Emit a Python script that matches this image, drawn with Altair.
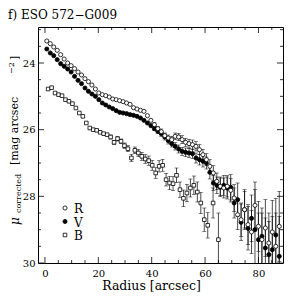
import altair as alt
import pandas as pd

# ---- data ----
radius = [0.7, 2.0, 3.3, 4.6, 5.9, 7.2, 8.5, 9.8, 11.1, 12.4, 13.7, 15.0, 16.3, 17.6, 18.9,
          20.2, 21.5, 22.8, 24.1, 25.4, 26.7, 28.0, 29.3, 30.6, 31.9, 33.2, 34.5, 35.8, 37.1,
          38.4, 39.7, 41.0, 42.3, 43.6, 44.9, 46.2, 47.5, 48.8, 50.1, 51.4, 52.7, 54.0, 55.3,
          56.6, 57.9, 59.2, 60.5, 61.8, 63.1, 64.4, 65.7, 67.0, 68.3, 69.6, 70.9, 72.2, 73.5,
          74.8, 76.1, 77.4, 78.7, 80.0, 81.3, 82.6, 83.9, 85.2, 86.5, 87.8]

R_mu = [23.34, 23.42, 23.52, 23.62, 23.75, 23.88, 24.00, 24.08, 24.17, 24.27,
        24.36, 24.47, 24.56, 24.66, 24.78, 24.90, 24.95, 24.98, 25.02, 25.08,
        25.10, 25.13, 25.16, 25.20, 25.24, 25.34, 25.38, 25.42, 25.45, 25.58,
        25.72,
        25.85, 25.97, 26.06, 26.18, 26.25, 26.30, 26.20, 26.22, 26.30, 26.38,
        26.42, 26.45, 26.50, 26.60, 26.75, 26.90, 27.10, 27.30, 27.55, 27.70,
        27.75, 27.70, 27.82, 28.05, 28.55, 28.70, 28.40, 28.85, 29.07, 28.27,
        28.90, 29.30, 28.95, 29.40, 29.07, 29.50, 28.90]
R_err = [0.02, 0.02, 0.02, 0.02, 0.02, 0.02, 0.02, 0.02, 0.02, 0.02,
         0.02, 0.02, 0.02, 0.02, 0.03, 0.03, 0.03, 0.03, 0.03, 0.03,
         0.03, 0.03, 0.03, 0.03, 0.04, 0.04, 0.04, 0.04, 0.05, 0.05,
         0.05,
         0.06, 0.07, 0.08, 0.08, 0.09, 0.10, 0.10, 0.11, 0.12, 0.12,
         0.13, 0.14, 0.14, 0.15, 0.16, 0.18, 0.20, 0.22, 0.25, 0.28,
         0.30, 0.32, 0.35, 0.40, 0.45, 0.50, 0.55, 0.60, 0.65, 0.70,
         0.75, 0.80, 0.85, 0.90, 0.95, 1.00, 1.05]

V_mu = [23.58, 23.70, 23.78, 23.90, 24.02, 24.10, 24.18, 24.27, 24.40, 24.52,
        24.62, 24.75, 24.85, 24.93, 25.00, 25.10, 25.20, 25.26, 25.32, 25.37,
        25.43, 25.48, 25.50, 25.52, 25.55, 25.57, 25.60, 25.65, 25.72, 25.80,
        25.88,
        25.97, 26.05, 26.12, 26.22, 26.33, 26.42, 26.50, 26.58, 26.65, 26.68,
        26.70, 26.72, 26.85, 26.90, 26.95, 27.00, 27.28, 27.60, 27.67, 27.73,
        27.67, 27.75, 27.73, 28.20, 28.10, 28.78, 28.40, 28.96, 28.66, 29.00,
        29.30, 29.20, 29.55, 29.75, 29.60, 29.16, 29.80]
V_err = [0.02, 0.02, 0.02, 0.02, 0.02, 0.02, 0.02, 0.02, 0.02, 0.02,
         0.02, 0.02, 0.02, 0.02, 0.03, 0.03, 0.03, 0.03, 0.03, 0.03,
         0.03, 0.03, 0.03, 0.03, 0.04, 0.04, 0.04, 0.04, 0.05, 0.05,
         0.05,
         0.06, 0.07, 0.08, 0.09, 0.10, 0.10, 0.11, 0.12, 0.12, 0.13,
         0.14, 0.14, 0.15, 0.16, 0.17, 0.18, 0.20, 0.22, 0.25, 0.28,
         0.30, 0.33, 0.38, 0.45, 0.50, 0.55, 0.60, 0.65, 0.70, 1.20,
         0.80, 0.85, 0.90, 1.00, 1.00, 1.10, 1.20]

B_r = [1.2, 2.5, 3.8, 5.1, 6.4, 7.7, 9.0, 10.3, 11.6, 12.9, 14.2, 15.5, 16.8, 18.1, 19.4,
       20.7, 22.0, 23.3, 24.6, 25.9, 27.2, 28.5, 29.8, 31.1, 32.4, 33.7, 35.0, 36.3, 37.6,
       38.9, 40.2, 41.5, 42.8, 44.1, 45.4, 46.7, 48.0, 49.3, 50.6, 51.9, 53.2, 54.5, 55.8,
       57.1, 58.4, 59.7, 61.0, 63.0, 65.0]
B_mu = [24.78, 24.74, 24.90, 24.95, 24.98, 25.10, 25.15, 25.22, 25.35, 25.50,
        25.60, 25.80, 25.95, 26.00, 26.02, 26.08, 26.12, 26.15, 26.22, 26.38,
        26.27, 26.35, 26.48, 26.57, 26.85, 26.62, 26.70, 26.80, 26.88, 26.93,
        27.07, 27.30, 27.10, 27.07, 27.50, 27.60, 27.62, 27.37, 27.80, 28.06,
        27.90, 27.75, 27.67, 27.87, 28.20, 28.70, 28.87, 28.20, 29.30]
B_err = [0.02, 0.02, 0.02, 0.02, 0.02, 0.02, 0.03, 0.03, 0.03, 0.03,
         0.03, 0.03, 0.04, 0.04, 0.04, 0.05, 0.05, 0.05, 0.06, 0.06,
         0.07, 0.07, 0.08, 0.09, 0.10, 0.10, 0.11, 0.12, 0.13, 0.14,
         0.15, 0.16, 0.17, 0.18, 0.19, 0.20, 0.21, 0.22, 0.23, 0.25,
         0.26, 0.27, 0.28, 0.30, 0.32, 0.35, 0.38, 0.45, 0.80]

bands = ["R", "V", "B"]
title_text = "f) ESO 572\u2212G009"
x_label_values = [0, 20, 40, 60, 80]
y_label_values = [24, 26, 28, 30]
x_ticks = [0, 5, 10, 15, 20, 25, 30, 35, 40, 45, 50, 55, 60, 65, 70, 75, 80, 85]
y_ticks = [23, 23.5, 24, 24.5, 25, 25.5, 26, 26.5, 27, 27.5, 28, 28.5, 29, 29.5, 30]

rows = []
for band, rs, mus, errs in [("R", radius, R_mu, R_err), ("V", radius, V_mu, V_err), ("B", B_r, B_mu, B_err)]:
    for r, m, e in zip(rs, mus, errs):
        rows.append({"band": band, "r": r, "mu": m, "err": e, "lo": m - e, "hi": m + e})
df = pd.DataFrame(rows)

W, H = 245, 236
FONT = "DejaVu Serif"
xs = alt.Scale(domain=[-2.6, 89.2], nice=False, zero=False)
ys = alt.Scale(domain=[22.92, 30], nice=False, zero=False, reverse=True)
xaxis = alt.Axis(values=x_label_values, ticks=False, domain=False, grid=False,
                 labelFont=FONT, labelFontSize=10, labelPadding=5, labelFlush=False,
                 labelColor="black", title="Radius [arcsec]", titleFont=FONT,
                 titleFontSize=12.5, titleFontWeight="normal", titleColor="black",
                 titlePadding=1, titleX=113)
yaxis = alt.Axis(values=y_label_values, ticks=False, domain=False, grid=False,
                 labelFont=FONT, labelFontSize=10, labelPadding=3, labelFlush=False,
                 labelColor="black", title=None)

X = alt.X("r:Q", scale=xs, axis=xaxis)
base = alt.Chart(df)

bars = base.mark_rule(color="black", strokeWidth=0.7, clip=True).encode(
    x=X, y=alt.Y("lo:Q", scale=ys, axis=yaxis), y2="hi:Q")
caps_lo = base.transform_filter("datum.err >= 0.06").mark_tick(
    orient="horizontal", size=4, thickness=0.7, color="black", clip=True).encode(
    x=X, y=alt.Y("lo:Q", scale=ys, axis=yaxis))
caps_hi = base.transform_filter("datum.err >= 0.06").mark_tick(
    orient="horizontal", size=4, thickness=0.7, color="black", clip=True).encode(
    x=X, y=alt.Y("hi:Q", scale=ys, axis=yaxis))

def pts(band, shape, filled, size):
    kw = dict(shape=shape, size=size, clip=True, strokeWidth=0.8)
    if filled:
        kw.update(filled=True, fill="black", stroke="black", opacity=1)
    else:
        kw.update(filled=False, stroke="black", fill="white", fillOpacity=1, opacity=1)
    return base.transform_filter(alt.datum.band == band).mark_point(**kw).encode(
        x=X, y=alt.Y("mu:Q", scale=ys, axis=yaxis))

pB = pts("B", "square", False, 13)
pV = pts("V", "circle", True, 17)
pR = pts("R", "circle", False, 17)

# inside ticks on all four sides
xt = pd.DataFrame({"t": x_ticks})
xt["major"] = xt["t"] % 20 == 0
yt = pd.DataFrame({"t": y_ticks})
yt["major"] = yt["t"] % 2 == 0

tick_layers = []
for major, ln in [(True, 6), (False, 3)]:
    xd = alt.Chart(xt).transform_filter(alt.datum.major == major)
    yd = alt.Chart(yt).transform_filter(alt.datum.major == major)
    tick_layers.append(xd.mark_rule(color="black", strokeWidth=0.8).encode(
        x=alt.X("t:Q", scale=xs, axis=xaxis), y=alt.value(H), y2=alt.value(H - ln)))
    tick_layers.append(xd.mark_rule(color="black", strokeWidth=0.8).encode(
        x=alt.X("t:Q", scale=xs, axis=xaxis), y=alt.value(0), y2=alt.value(ln)))
    tick_layers.append(yd.mark_rule(color="black", strokeWidth=0.8).encode(
        y=alt.Y("t:Q", scale=ys, axis=yaxis), x=alt.value(0), x2=alt.value(ln)))
    tick_layers.append(yd.mark_rule(color="black", strokeWidth=0.8).encode(
        y=alt.Y("t:Q", scale=ys, axis=yaxis), x=alt.value(W), x2=alt.value(W - ln)))

def txt(s, x, y, size, angle=0, style="normal", align="left", baseline="alphabetic"):
    kw = dict(font=FONT, fontSize=size, color="black", align=align, baseline=baseline,
              fontStyle=style)
    if angle:
        kw["angle"] = angle
    return alt.Chart(pd.DataFrame({"s": [s]})).mark_text(**kw).encode(
        x=alt.value(x), y=alt.value(y), text="s:N")

# y axis title: mu_corrected [mag arcsec^-2]
ytitle = [
    txt("\u03bc", -19, 198, 12, angle=270, style="italic"),
    txt("corrected", -17, 186, 8, angle=270),
    txt("[mag arcsec", -20, 138, 11, angle=270),
    txt("\u22122", -24, 47, 8, angle=270),
    txt("]", -20, 33, 11, angle=270),
]

title = txt(title_text, -30, -12, 12, baseline="middle")

legend_layers = []
leg_style = {"R": ("circle", False, 17), "V": ("circle", True, 17), "B": ("square", False, 13)}
for i, b in enumerate(bands):
    shape, filled, size = leg_style[b]
    kw = dict(shape=shape, size=size, strokeWidth=0.8, stroke="black", opacity=1)
    kw.update(filled=True, fill="black") if filled else kw.update(filled=False)
    yy = 181 + 13.5 * i
    legend_layers.append(alt.Chart(pd.DataFrame({"band": [b]})).mark_point(**kw).encode(
        x=alt.value(27), y=alt.value(yy)))
    legend_layers.append(alt.Chart(pd.DataFrame({"band": [b]})).mark_text(
        font=FONT, fontSize=12, color="black", align="left", baseline="middle").encode(
        x=alt.value(36), y=alt.value(yy + 1), text="band:N"))

chart = alt.layer(
    bars, caps_lo, caps_hi, pB, pV, pR, *tick_layers, *ytitle, title, *legend_layers
).properties(
    width=W, height=H,
    padding={"left": 30, "top": 19, "right": 9, "bottom": 29},
    autosize=alt.AutoSizeParams(type="none"),
    background="white",
).configure_view(stroke="black", strokeWidth=1)

chart.save("out.html", embed_options={"renderer": "svg", "actions": False})
